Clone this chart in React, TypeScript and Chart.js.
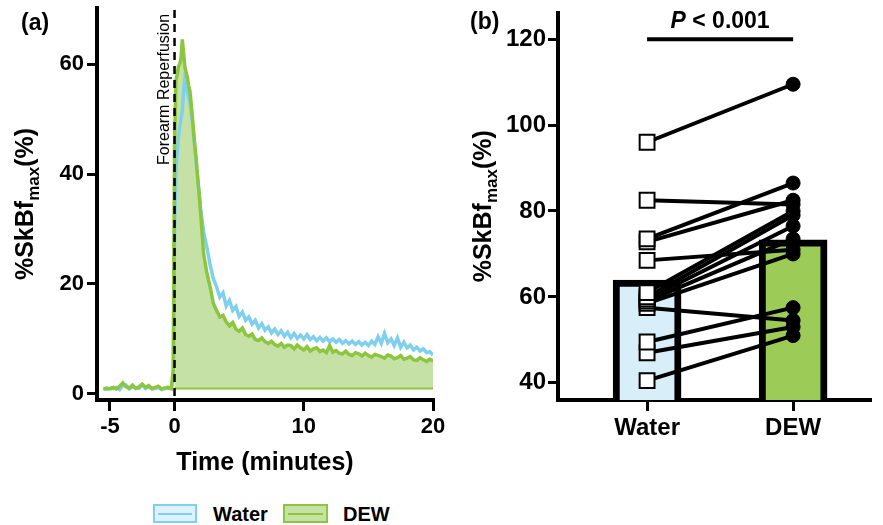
import React, { useEffect, useRef } from 'react';
import { Chart, registerables } from 'chart.js';

Chart.register(...registerables);

const FONT = '"Liberation Sans", Arial, Helvetica, sans-serif';

// ---------- Panel (a): time course ----------
const timeMin = [
  -5.5, -5.25, -5, -4.75, -4.5, -4.25, -4, -3.75, -3.5, -3.25, -3, -2.75, -2.5, -2.25, -2, -1.75, -1.5, -1.25, -1, -0.75, -0.5, -0.25, -0.1,
  0, 0.1, 0.2, 0.3, 0.4, 0.5, 0.6, 0.7, 0.8, 0.9, 1, 1.1, 1.2, 1.3, 1.4, 1.5, 1.6, 1.7, 1.8, 1.9, 2,
  2.25, 2.5, 2.75, 3, 3.25, 3.5, 3.75, 4, 4.25, 4.5, 4.75, 5, 5.25, 5.5, 5.75, 6, 6.25, 6.5, 6.75, 7, 7.25, 7.5, 7.75, 8,
  8.25, 8.5, 8.75, 9, 9.25, 9.5, 9.75, 10,
  10.25, 10.5, 10.75, 11, 11.25, 11.5, 11.75, 12, 12.25, 12.5, 12.75, 13, 13.25, 13.5, 13.75, 14, 14.25, 14.5, 14.75, 15,
  15.25, 15.5, 15.75, 16, 16.25, 16.5, 16.75, 17, 17.25, 17.5, 17.75, 18, 18.25, 18.5, 18.75, 19, 19.25, 19.5, 19.75, 20,
];

const waterPct = [
  0.8, 1.1, 0.9, 1.0, 1.2, 0.8, 1.5, 1.6, 0.9, 1.3, 1.1, 1.0, 1.7, 1.0, 1.3, 0.9, 1.0, 1.2, 0.8, 1.0, 1.1, 0.9, 3.0,
  30, 40, 44, 46.5, 48.5, 50, 51.5, 55, 57.5, 56, 55, 54, 53, 51, 49, 46.5, 44, 41.5, 39, 36.5, 34,
  29.5, 26.7, 23.5, 21, 19.5, 17.6, 18.4, 16.0, 17.0, 15.2, 15.9, 14.1, 14.9, 13.4, 14.0, 12.7,
  13.4, 12.0, 12.8, 11.6, 12.2, 11.1, 11.8, 10.8, 11.5, 10.5, 11.2, 10.2, 11.0, 10.1, 10.7, 10.0,
  10.8, 9.9, 10.4, 9.7, 10.3, 9.6, 10.2, 9.5, 10.0, 9.4, 9.9, 9.2, 9.7, 9.1, 9.6, 9.0,
  9.5, 8.9, 9.4, 8.8, 9.6, 9.0, 10.4, 9.2, 11.0, 9.3, 10.0, 8.8, 10.2, 8.5, 9.4, 8.4,
  8.9, 8.0, 8.5, 7.8, 8.2, 7.5, 7.7, 7.1,
];

const dewPct = [
  1.0, 0.9, 1.0, 1.2, 0.9, 1.4, 2.0, 1.3, 1.1, 1.6, 1.0, 1.3, 1.8, 1.2, 1.5, 1.0, 1.2, 1.4, 0.9, 1.1, 1.2, 1.0, 4.5,
  45, 57, 58, 59.5, 60, 61, 64.5, 62, 59.5, 58.5, 57.5, 56, 55, 52.5, 50, 47, 44.5, 42, 39, 36.5, 33.5,
  25.5, 22, 19.5, 16.5, 15.2, 14, 14.3, 13.1, 12.4, 13.0, 11.8, 11.4, 12.0, 10.8, 10.5, 10.9,
  9.9, 9.7, 10.2, 9.5, 9.2, 9.6, 9.0, 8.7, 9.2, 8.5, 8.9, 8.8, 8.2, 8.9, 8.4, 8.0,
  8.6, 7.8, 8.2, 8.4, 7.7, 8.0, 7.5, 8.8, 7.6, 7.9, 7.4, 7.3, 7.8, 7.2, 7.0, 7.5,
  7.3, 6.9, 7.4, 7.0, 6.7, 7.2, 7.0, 6.8, 6.5, 7.1, 6.9, 6.4, 6.6, 7.0, 6.3, 6.5,
  6.8, 6.2, 6.1, 6.6, 6.2, 5.9, 6.3, 6.0,
];

const fillBase = 1.0;
const reperfusionTime = 0;
const timeTicks = [-5, 0, 10, 20];
const pctTicksA = [0, 20, 40, 60];

// ---------- Panel (b): individual peaks ----------
const groups = ['Water', 'DEW'];
const groupMeans = [63.9, 73.3];
const waterSubjects = [96, 82.5, 73.5, 72.8, 68.5, 61, 60, 59.5, 59, 58.5, 57.5, 49.5, 47, 40.5];
const dewSubjects = [109.5, 81.5, 86.5, 82.5, 71, 80, 79, 76.5, 73.5, 70, 54.5, 57.5, 53, 51];
const pctTicksB = [40, 60, 80, 100, 120];
const bracketValue = 120;

const C_BLUE = '#7fd0ee';
const C_GREEN = '#8cc63f';
const C_GREEN_FILL = '#c6e1a6';
const C_WATER_BAR = '#d8eff9';
const C_DEW_BAR = '#9ccb58';

function drawYTitle(ctx: CanvasRenderingContext2D, cx: number, cy: number, size: number) {
  ctx.save();
  ctx.translate(cx, cy);
  ctx.rotate(-Math.PI / 2);
  ctx.fillStyle = '#000';
  ctx.textAlign = 'left';
  ctx.textBaseline = 'alphabetic';
  const big = `bold ${size}px ${FONT}`;
  const small = `bold ${Math.round(size * 0.68)}px ${FONT}`;
  ctx.font = big;
  const w1 = ctx.measureText('%SkBf').width;
  const w3 = ctx.measureText('(%)').width;
  ctx.font = small;
  const w2 = ctx.measureText('max').width;
  let x = -(w1 + w2 + w3) / 2;
  ctx.font = big;
  ctx.fillText('%SkBf', x, 0);
  x += w1;
  ctx.font = small;
  ctx.fillText('max', x, size * 0.22);
  x += w2;
  ctx.font = big;
  ctx.fillText('(%)', x, 0);
  ctx.restore();
}

export default function App() {
  const refA = useRef<HTMLCanvasElement>(null);
  const refB = useRef<HTMLCanvasElement>(null);

  useEffect(() => {
    const tickFontA = { family: FONT, size: 22, weight: 'bold' as const };
    const tickFontB = { family: FONT, size: 24, weight: 'bold' as const };
    const gridCommon = {
      drawOnChartArea: false,
      drawTicks: true,
      color: '#000',
      tickColor: '#000',
      lineWidth: 3,
      tickWidth: 3,
    };
    const borderCommon = { display: true, color: '#000', width: 4 };

    const allPoints = (vals: number[]) => timeMin.map((t, i) => ({ x: t, y: vals[i] }));
    const postPoints = (vals: number[]) =>
      timeMin.map((t, i) => ({ x: t, y: vals[i] })).filter((p) => p.x >= reperfusionTime);

    const chartA = new Chart(refA.current!, {
      type: 'line',
      data: {
        datasets: [
          {
            label: 'DEW fill',
            data: postPoints(dewPct),
            borderWidth: 0,
            pointRadius: 0,
            backgroundColor: C_GREEN_FILL,
            fill: { value: fillBase },
            order: 4,
          },
          {
            label: 'base',
            data: [
              { x: reperfusionTime, y: fillBase },
              { x: 20, y: fillBase },
            ],
            borderColor: C_GREEN,
            borderWidth: 2,
            pointRadius: 0,
            fill: false,
            order: 3,
          },
          {
            label: 'Water',
            data: allPoints(waterPct),
            borderColor: C_BLUE,
            borderWidth: 3.5,
            pointRadius: 0,
            fill: false,
            tension: 0,
            order: 2,
          },
          {
            label: 'DEW',
            data: allPoints(dewPct),
            borderColor: C_GREEN,
            borderWidth: 3.5,
            pointRadius: 0,
            fill: false,
            tension: 0,
            order: 1,
          },
        ],
      },
      options: {
        responsive: false,
        animation: false,
        parsing: false as any,
        layout: { padding: { left: 0, top: 8, right: 17, bottom: 0 } },
        plugins: { legend: { display: false }, tooltip: { enabled: false } },
        scales: {
          x: {
            type: 'linear',
            min: -6,
            max: 20,
            afterBuildTicks: (s: any) => {
              s.ticks = timeTicks.map((v) => ({ value: v }));
            },
            afterFit: (s: any) => {
              s.height = 80;
              s.paddingLeft = 0;
              s.paddingRight = 0;
            },
            grid: { ...gridCommon, tickLength: 11 },
            border: borderCommon,
            ticks: { color: '#000', font: tickFontA, padding: 3, maxRotation: 0, autoSkip: false },
            title: {
              display: true,
              text: 'Time (minutes)',
              color: '#000',
              font: { family: FONT, size: 25, weight: 'bold' },
              padding: { top: 0, bottom: 2 },
            },
          },
          y: {
            type: 'linear',
            min: -1.1,
            max: 70.2,
            afterBuildTicks: (s: any) => {
              s.ticks = pctTicksA.map((v) => ({ value: v }));
            },
            afterFit: (s: any) => {
              s.width = 97;
              s.paddingTop = 0;
              s.paddingBottom = 0;
            },
            grid: { ...gridCommon, tickLength: 10 },
            border: borderCommon,
            ticks: { color: '#000', font: tickFontA, padding: 3, autoSkip: false },
          },
        },
      },
      plugins: [
        {
          id: 'panelAExtras',
          afterDatasetsDraw(chart: any) {
            const { ctx, chartArea, scales } = chart;
            const px = scales.x.getPixelForValue(reperfusionTime);
            ctx.save();
            ctx.strokeStyle = '#000';
            ctx.lineWidth = 2.5;
            ctx.setLineDash([8, 6]);
            ctx.beginPath();
            ctx.moveTo(px, chartArea.top + 2);
            ctx.lineTo(px, chartArea.bottom);
            ctx.stroke();
            ctx.restore();
          },
          afterDraw(chart: any) {
            const { ctx, chartArea } = chart;
            const px = chart.scales.x.getPixelForValue(reperfusionTime);
            ctx.save();
            ctx.translate(px - 6, 165);
            ctx.rotate(-Math.PI / 2);
            ctx.font = `16px ${FONT}`;
            ctx.fillStyle = '#000';
            ctx.textAlign = 'left';
            ctx.textBaseline = 'alphabetic';
            ctx.fillText('Forearm Reperfusion', 0, 0);
            ctx.restore();

            ctx.save();
            ctx.font = `bold 23px ${FONT}`;
            ctx.fillStyle = '#000';
            ctx.textAlign = 'left';
            ctx.textBaseline = 'alphabetic';
            ctx.fillText('(a)', 21, 30);
            ctx.restore();

            drawYTitle(ctx, 33, (chartArea.top + chartArea.bottom) / 2, 25);
          },
        },
      ],
    } as any);

    const pairDatasets = waterSubjects.map((w, i) => ({
      type: 'line',
      label: 'pair' + i,
      data: [
        { x: 0, y: w },
        { x: 1, y: dewSubjects[i] },
      ],
      borderColor: '#000',
      borderWidth: 4,
      pointStyle: ['rect', 'circle'],
      pointRadius: [10.5, 7],
      pointBackgroundColor: ['#fff', '#000'],
      pointBorderColor: '#000',
      pointBorderWidth: [2, 1],
      fill: false,
      order: 1,
      clip: false,
    }));

    const chartB = new Chart(refB.current!, {
      type: 'bar',
      data: {
        datasets: [
          {
            type: 'bar',
            label: 'means',
            data: groupMeans.map((m, i) => ({ x: i, y: m })),
            backgroundColor: [C_WATER_BAR, C_DEW_BAR],
            borderColor: '#000',
            borderWidth: 7,
            borderSkipped: 'bottom',
            barThickness: 68,
            order: 2,
          },
          ...pairDatasets,
        ],
      },
      options: {
        responsive: false,
        animation: false,
        layout: { padding: { left: 0, top: 8, right: 0, bottom: 0 } },
        plugins: { legend: { display: false }, tooltip: { enabled: false } },
        scales: {
          x: {
            type: 'linear',
            min: -0.61,
            max: 1.53,
            offset: false,
            afterBuildTicks: (s: any) => {
              s.ticks = groups.map((_, i) => ({ value: i }));
            },
            afterFit: (s: any) => {
              s.height = 80;
              s.paddingLeft = 0;
              s.paddingRight = 0;
            },
            grid: { ...gridCommon, offset: false, tickLength: 11 },
            border: borderCommon,
            ticks: {
              color: '#000',
              font: tickFontB,
              padding: 3,
              maxRotation: 0,
              autoSkip: false,
              callback: (v: any) => groups[Math.round(Number(v))] ?? '',
            },
          },
          y: {
            type: 'linear',
            min: 36,
            max: 126.2,
            afterBuildTicks: (s: any) => {
              s.ticks = pctTicksB.map((v) => ({ value: v }));
            },
            afterFit: (s: any) => {
              s.width = 108;
              s.paddingTop = 0;
              s.paddingBottom = 0;
            },
            grid: { ...gridCommon, tickLength: 10 },
            border: borderCommon,
            ticks: { color: '#000', font: tickFontB, padding: 2, autoSkip: false },
          },
        },
      },
      plugins: [
        {
          id: 'panelBExtras',
          afterDraw(chart: any) {
            const { ctx, chartArea, scales } = chart;
            const x0 = scales.x.getPixelForValue(0);
            const x1 = scales.x.getPixelForValue(1);
            const yb = scales.y.getPixelForValue(bracketValue);
            ctx.save();
            ctx.strokeStyle = '#000';
            ctx.lineWidth = 4;
            ctx.beginPath();
            ctx.moveTo(x0, yb);
            ctx.lineTo(x1, yb);
            ctx.stroke();

            ctx.fillStyle = '#000';
            ctx.textBaseline = 'alphabetic';
            ctx.textAlign = 'left';
            const fItal = `italic bold 23px ${FONT}`;
            const fBold = `bold 23px ${FONT}`;
            ctx.font = fItal;
            const wP = ctx.measureText('P').width;
            ctx.font = fBold;
            const wRest = ctx.measureText(' < 0.001').width;
            let tx = (x0 + x1) / 2 - (wP + wRest) / 2;
            ctx.font = fItal;
            ctx.fillText('P', tx, 28);
            tx += wP;
            ctx.font = fBold;
            ctx.fillText(' < 0.001', tx, 28);

            ctx.font = `bold 23px ${FONT}`;
            ctx.fillText('(b)', 20, 29);
            ctx.restore();

            drawYTitle(ctx, 41, (chartArea.top + chartArea.bottom) / 2, 25);
          },
        },
      ],
    } as any);

    return () => {
      chartA.destroy();
      chartB.destroy();
    };
  }, []);

  const legendBox = (fill: string, stroke: string, left: number, width: number) => (
    <div
      style={{
        position: 'absolute',
        left,
        top: 504,
        width,
        height: 19,
        boxSizing: 'border-box',
        background: fill,
        border: `2px solid ${stroke}`,
      }}
    >
      <div style={{ position: 'absolute', left: 3, right: 3, top: 6.5, height: 2, background: stroke }} />
    </div>
  );
  const legendText = (text: string, left: number) => (
    <div
      style={{
        position: 'absolute',
        left,
        top: 502,
        height: 24,
        lineHeight: '24px',
        fontFamily: FONT,
        fontWeight: 'bold',
        fontSize: 20,
        color: '#000',
      }}
    >
      {text}
    </div>
  );

  return (
    <div style={{ position: 'absolute', left: 0, top: 0, width: 883, height: 525, background: '#fff', overflow: 'hidden' }}>
      <div style={{ position: 'absolute', left: 0, top: 0, width: 450, height: 480 }}>
        <canvas ref={refA} width={450} height={480} style={{ display: 'block' }} />
      </div>
      <div style={{ position: 'absolute', left: 450, top: 0, width: 433, height: 480 }}>
        <canvas ref={refB} width={433} height={480} style={{ display: 'block' }} />
      </div>
      {legendBox('#def2fb', C_BLUE, 153, 44)}
      {legendText('Water', 213)}
      {legendBox(C_GREEN_FILL, C_GREEN, 283, 45)}
      {legendText('DEW', 343)}
    </div>
  );
}
